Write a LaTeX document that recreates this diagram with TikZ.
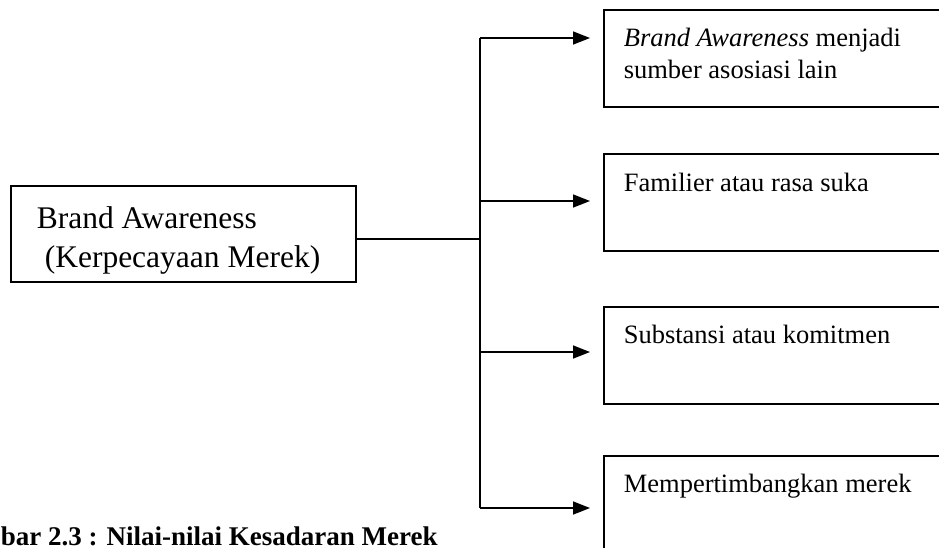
\documentclass[tikz,border=0pt]{standalone}
\usepackage{fontspec}
\setmainfont{Liberation Serif}
\usetikzlibrary{arrows.meta}
\begin{document}
\begin{tikzpicture}[x=1pt,y=-1pt,
  line width=1.6pt,
  rbox/.style={draw, anchor=north west, minimum width=345pt, minimum height=97pt, inner sep=0pt},
  lbox/.style={draw, anchor=north west, minimum width=345pt, minimum height=96pt, inner sep=0pt},
  ltext/.style={anchor=base west, inner sep=0pt, align=left, font=\fontsize{31.5}{39}\selectfont},
  rtext/.style={anchor=base west, inner sep=0pt, align=left, font=\fontsize{26.5}{32}\selectfont},
  arr/.style={-{Triangle[length=17pt,width=13pt]}, shorten >=13pt},
  captxt/.style={anchor=base west, inner sep=0pt, font=\fontsize{27}{32}\selectfont\bfseries}
]
\useasboundingbox (0,0) rectangle (939,547);

% left box
\node[lbox] (main) at (10,185) {};
\node[ltext] (maintext) at (36,267) {Brand Awareness\\\hspace*{8pt}(Kerpecayaan Merek)};

% right boxes
\node[rbox] (b1) at (603,9) {};
\node[rbox] (b2) at (603,153) {};
\node[rbox] (b3) at (603,306) {};
\node[rbox] (b4) at (603,455) {};

% texts in right boxes
\node[rtext] (t1) at (623,78) {\textit{Brand Awareness} menjadi\\sumber asosiasi lain};
\node[rtext] (t2) at (623,191) {Familier atau rasa suka};
\node[rtext] (t3) at (623,343) {Substansi atau komitmen};
\node[rtext] (t4) at (623,492) {Mempertimbangkan merek};

% connectors
\coordinate (jt) at (480,38);
\coordinate (j2) at (480,201);
\coordinate (j3) at (480,352);
\coordinate (jb) at (480,508);
\coordinate (jm) at (480,239);
\draw (jt) -- (jb);
\draw (main.east |- jm) -- (jm);
\draw[arr] (jt) -- (jt -| b1.west);
\draw[arr] (j2) -- (j2 -| b2.west);
\draw[arr] (j3) -- (j3 -| b3.west);
\draw[arr] (jb) -- (jb -| b4.west);

% caption
\node[captxt] (cap) at (0,545) {bar 2.3 : Nilai-nilai Kesadaran Merek};
\end{tikzpicture}
\end{document}
